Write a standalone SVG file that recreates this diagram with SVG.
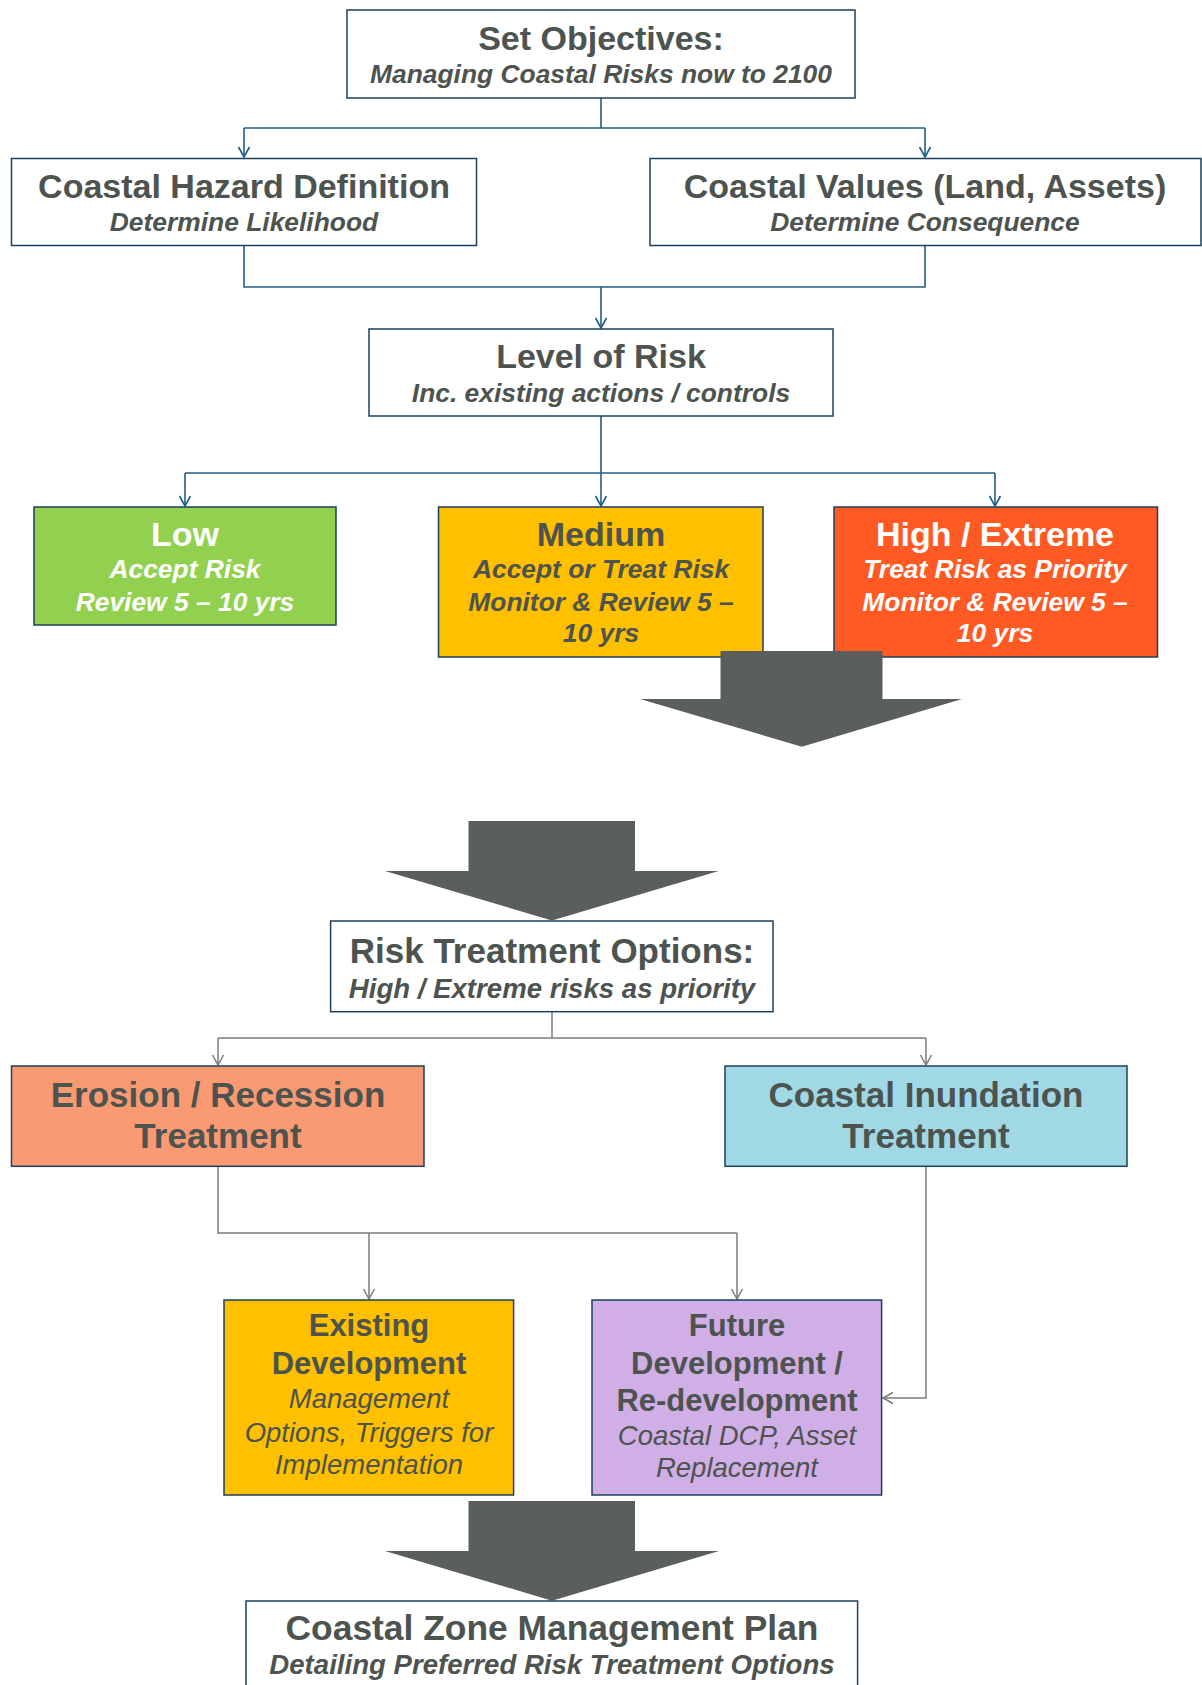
<svg xmlns="http://www.w3.org/2000/svg" width="1202" height="1685" viewBox="0 0 1202 1685">
<style>
.box{stroke:#1d3f5e;stroke-width:1.5}
.t{font-family:"Liberation Sans",Arial,sans-serif;font-weight:bold;fill:#4d534f;text-anchor:middle}
.s{font-family:"Liberation Sans",Arial,sans-serif;font-weight:bold;font-style:italic;fill:#4d534f;text-anchor:middle;font-size:26.4px}
.s2{font-size:27.6px}
.r{font-family:"Liberation Sans",Arial,sans-serif;font-style:italic;fill:#4d534f;text-anchor:middle;font-size:27.5px}
.w{fill:#ffffff}
.cb{fill:none;stroke:#1f5f85;stroke-width:1.6}
.cg{fill:none;stroke:#7a7c7b;stroke-width:1.5}
.big{fill:#5a5f5b}
</style>
<defs>
<marker id="ab" markerUnits="userSpaceOnUse" markerWidth="14" markerHeight="14" viewBox="0 0 14 14" refX="12" refY="7" orient="auto">
<path d="M2,1.5 L12,7 L2,12.5" fill="none" stroke="#1f5f85" stroke-width="1.6"/>
</marker>
<marker id="ag" markerUnits="userSpaceOnUse" markerWidth="14" markerHeight="14" viewBox="0 0 14 14" refX="12" refY="7" orient="auto">
<path d="M2,1.5 L12,7 L2,12.5" fill="none" stroke="#7a7c7b" stroke-width="1.5"/>
</marker>
</defs>

<g id="connectors">
<path class="cb" d="M601,98 V128 M244,128 H925"/>
<path class="cb" d="M244,128 V157" marker-end="url(#ab)"/>
<path class="cb" d="M925,128 V157" marker-end="url(#ab)"/>
<path class="cb" d="M244,246 V287 H925 V246"/>
<path class="cb" d="M601,287 V328" marker-end="url(#ab)"/>
<path class="cb" d="M601,416 V473 M185,473 H995"/>
<path class="cb" d="M185,473 V506" marker-end="url(#ab)"/>
<path class="cb" d="M601,473 V506" marker-end="url(#ab)"/>
<path class="cb" d="M995,473 V506" marker-end="url(#ab)"/>
<path class="cg" d="M552,1012 V1038 M218,1038 H926"/>
<path class="cg" d="M218,1038 V1065" marker-end="url(#ag)"/>
<path class="cg" d="M926,1038 V1065" marker-end="url(#ag)"/>
<path class="cg" d="M218,1166 V1233 H737"/>
<path class="cg" d="M369,1233 V1299" marker-end="url(#ag)"/>
<path class="cg" d="M737,1233 V1299" marker-end="url(#ag)"/>
<path class="cg" d="M926,1166 V1398 H883" marker-end="url(#ag)"/>
</g>

<g id="set-objectives">
<rect class="box" x="347" y="10" width="508" height="88" fill="#ffffff"/>
<text class="t" x="601" y="50" font-size="34">Set Objectives:</text>
<text class="s" x="601" y="83">Managing Coastal Risks now to 2100</text>
</g>

<g id="coastal-hazard">
<rect class="box" x="11.5" y="158.5" width="465" height="87" fill="#ffffff"/>
<text class="t" x="244" y="198" font-size="34">Coastal Hazard Definition</text>
<text class="s" x="244" y="231">Determine Likelihood</text>
</g>

<g id="coastal-values">
<rect class="box" x="650" y="158.5" width="551" height="87" fill="#ffffff"/>
<text class="t" x="925" y="198" font-size="34">Coastal Values (Land, Assets)</text>
<text class="s" x="925" y="231">Determine Consequence</text>
</g>

<g id="level-of-risk">
<rect class="box" x="369" y="329" width="464" height="87" fill="#ffffff"/>
<text class="t" x="601" y="368" font-size="34">Level of Risk</text>
<text class="s" x="601" y="402">Inc. existing actions / controls</text>
</g>

<g id="low">
<rect class="box" x="34" y="507" width="302" height="118" fill="#92d050"/>
<text class="t w" x="185" y="546" font-size="34">Low</text>
<text class="s w" x="185" y="578">Accept Risk</text>
<text class="s w" x="185" y="611">Review 5 – 10 yrs</text>
</g>

<g id="medium">
<rect class="box" x="438.5" y="507" width="324.5" height="150" fill="#ffc000"/>
<text class="t" x="601" y="546" font-size="34">Medium</text>
<text class="s" x="601" y="578">Accept or Treat Risk</text>
<text class="s" x="601" y="611">Monitor &amp; Review 5 –</text>
<text class="s" x="601" y="642">10 yrs</text>
</g>

<g id="high-extreme">
<rect class="box" x="834" y="507" width="323.5" height="150" fill="#ff5a24"/>
<text class="t w" x="995" y="546" font-size="34">High / Extreme</text>
<text class="s w" x="995" y="578">Treat Risk as Priority</text>
<text class="s w" x="995" y="611">Monitor &amp; Review 5 –</text>
<text class="s w" x="995" y="642">10 yrs</text>
</g>

<g id="arrow-1">
<polygon class="big" points="720.5,651 882.5,651 882.5,699 962,699 801.8,746.7 640,699 720.5,699"/>
</g>

<g id="arrow-2">
<polygon class="big" points="468.5,821 635,821 635,871 718.7,871 552,920.5 385,871 468.5,871"/>
</g>

<g id="risk-treatment-options">
<rect class="box" x="330.6" y="921" width="442.4" height="90.7" fill="#ffffff"/>
<text class="t" x="552" y="963" font-size="35">Risk Treatment Options:</text>
<text class="s s2" x="552" y="998">High / Extreme risks as priority</text>
</g>

<g id="erosion-recession">
<rect class="box" x="11.5" y="1066" width="412.5" height="100.3" fill="#fa9a72"/>
<text class="t" x="218" y="1107" font-size="35">Erosion / Recession</text>
<text class="t" x="218" y="1148" font-size="35">Treatment</text>
</g>

<g id="coastal-inundation">
<rect class="box" x="725" y="1066" width="402" height="100.3" fill="#a0d8e6"/>
<text class="t" x="926" y="1107" font-size="35">Coastal Inundation</text>
<text class="t" x="926" y="1148" font-size="35">Treatment</text>
</g>

<g id="existing-development">
<rect class="box" x="224" y="1300" width="289.6" height="195" fill="#ffc000"/>
<text class="t" x="369" y="1336" font-size="31">Existing</text>
<text class="t" x="369" y="1374" font-size="31">Development</text>
<text class="r" x="369" y="1408">Management</text>
<text class="r" x="369" y="1442">Options, Triggers for</text>
<text class="r" x="369" y="1474">Implementation</text>
</g>

<g id="future-development">
<rect class="box" x="592" y="1300" width="289.6" height="195" fill="#d0aee6"/>
<text class="t" x="737" y="1336" font-size="31">Future</text>
<text class="t" x="737" y="1374" font-size="31">Development /</text>
<text class="t" x="737" y="1411" font-size="31">Re-development</text>
<text class="r" x="737" y="1445">Coastal DCP, Asset</text>
<text class="r" x="737" y="1477">Replacement</text>
</g>

<g id="arrow-3">
<polygon class="big" points="468.5,1501 635,1501 635,1551 719,1551 552,1600.7 385,1551 468.5,1551"/>
</g>

<g id="coastal-zone-management-plan">
<rect class="box" x="246" y="1601" width="611.6" height="110" fill="#ffffff"/>
<text class="t" x="552" y="1640" font-size="35.4">Coastal Zone Management Plan</text>
<text class="s s2" x="552" y="1674">Detailing Preferred Risk Treatment Options</text>
</g>
</svg>
